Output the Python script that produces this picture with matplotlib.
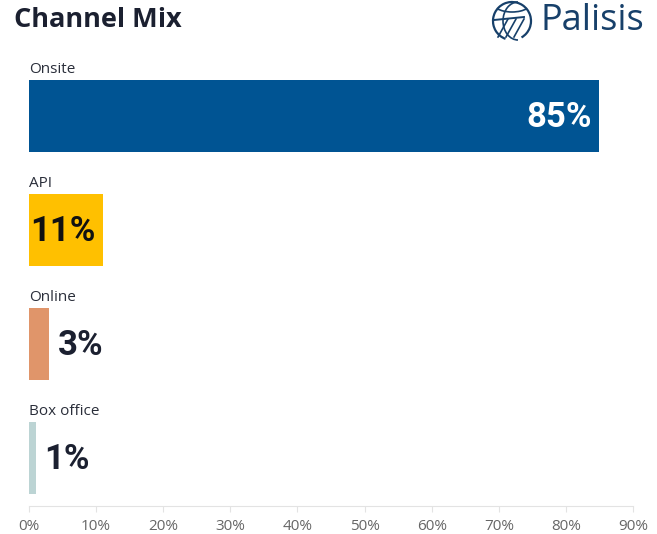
import numpy as np
import matplotlib.pyplot as plt
from matplotlib.patches import Arc

# data
channels = ['Onsite', 'API', 'Online', 'Box office']
shares = [85, 11, 3, 1]
colors = ['#005493', '#FFC000', '#E0956A', '#BCD4D4']
inside_color = ['white', '#111111', None, None]
ticks = np.arange(0, 100, 10)
tick_labels = ['%d%%' % t for t in ticks]

plt.rcParams['font.family'] = ['Open Sans', 'DejaVu Sans']
dark = '#1B2030'

fw, fh = 6.57, 5.34
fig = plt.figure(figsize=(fw, fh), dpi=100)
ax = fig.add_axes([29 / 657, 1 - 506 / 534, (633 - 29) / 657, (506 - 60) / 534])

bar_h = 72 / 114
ypos = np.arange(len(channels))
ax.barh(ypos, shares, height=bar_h, color=colors, align='center')
ax.set_xlim(0, 90)
ax.set_ylim(3 + 48 / 114, -56 / 114)

for i, (name, val) in enumerate(zip(channels, shares)):
    ax.annotate(name, (0, i - bar_h / 2), xytext=(0, 2), textcoords='offset points',
                ha='left', va='bottom', fontsize=11, color='#2A2E3A')
    lbl = '%d%%' % val
    if inside_color[i] is not None:
        ax.annotate(lbl, (val, i), xytext=(-5.5, -1), textcoords='offset points',
                    ha='right', va='center', fontsize=25, fontweight='bold',
                    family=['Roboto', 'DejaVu Sans'], color=inside_color[i])
    else:
        ax.annotate(lbl, (val, i), xytext=(6, -1), textcoords='offset points',
                    ha='left', va='center', fontsize=25, fontweight='bold',
                    family=['Roboto', 'DejaVu Sans'], color=dark)

ax.set_xticks(ticks)
ax.set_xticklabels(tick_labels)
ax.set_yticks([])
for s in ['top', 'right', 'left']:
    ax.spines[s].set_visible(False)
ax.spines['bottom'].set_color('#E3E3E3')
ax.tick_params(axis='x', direction='out', length=4, color='#E3E3E3',
               labelsize=11, labelcolor='#666666', pad=5)

fig.text(14 / 657, 1 - 20 / 534, 'Channel Mix', fontsize=19.5, fontweight='bold',
         color=dark, ha='left', va='center')

# logo
logo_blue = '#17406A'
fig.text(540 / 657, 1 - 21 / 534, 'Palisis', fontsize=26, color=logo_blue,
         fontweight='medium', ha='left', va='center')
lax = fig.add_axes([490 / 657, 1 - 42 / 534, 44 / 657, 42 / 534])
lax.set_xlim(-1.05, 1.05)
lax.set_ylim(-1.05, 1.05)
lax.set_aspect('equal')
lax.axis('off')
lax.add_patch(Arc((0, 0), 1.9, 1.9, theta1=-60, theta2=250, color=logo_blue, lw=1.6))
lax.add_patch(Arc((0.3, 0), 1.5, 1.9, theta1=90, theta2=270, color=logo_blue, lw=1.2))
lax.add_patch(Arc((0, 0.9), 1.9, 0.9, theta1=200, theta2=340, color=logo_blue, lw=1.2))
for dx in [-0.4, 0.0, 0.4]:
    lax.plot([dx - 0.3, dx + 0.2], [-0.8, 0.1], color=logo_blue, lw=1.2)
lax.plot([-0.9, 0.6], [0.05, 0.2], color=logo_blue, lw=1.4)

fig.savefig('out.png', dpi=100)
